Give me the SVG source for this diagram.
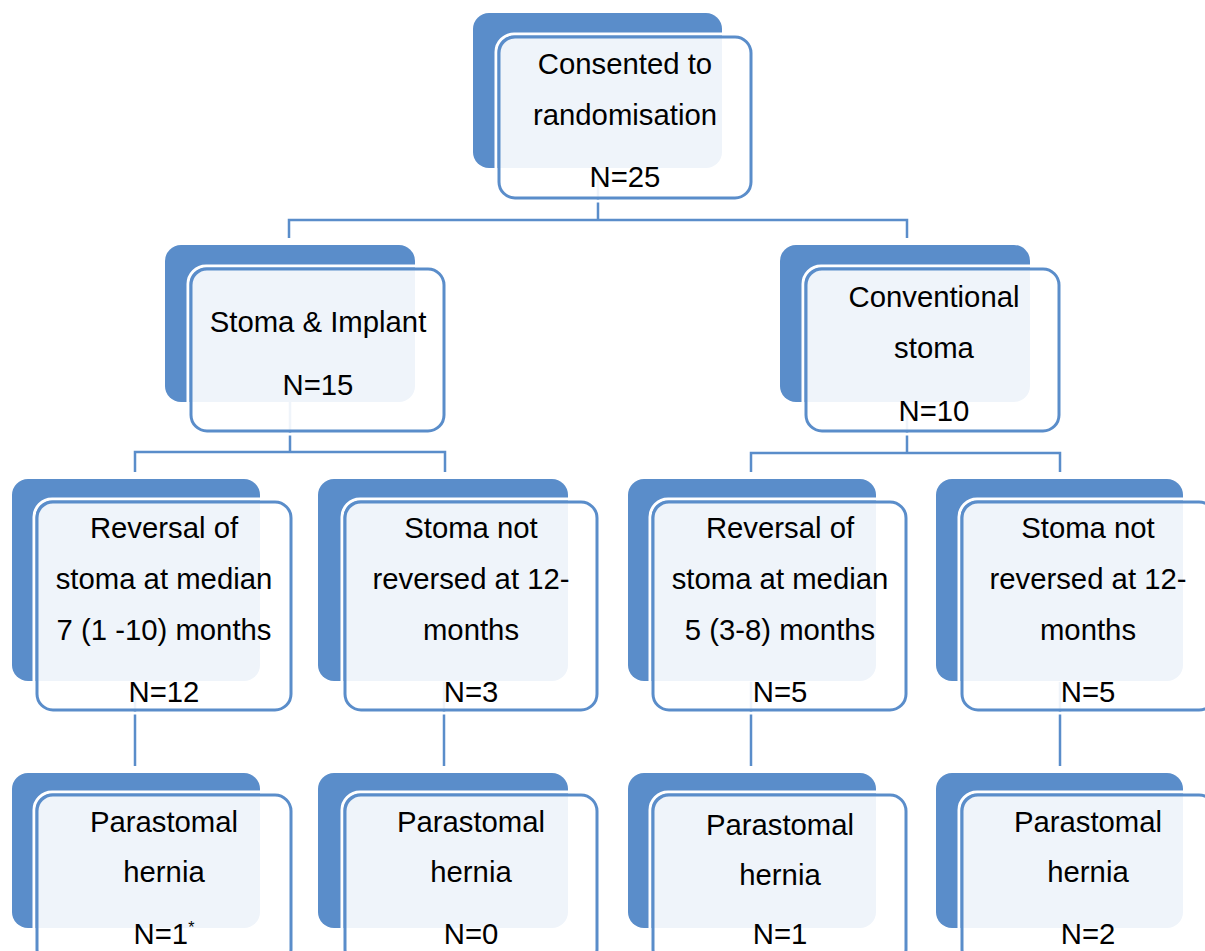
<svg xmlns="http://www.w3.org/2000/svg" width="1205" height="951" viewBox="0 0 1205 951">
<style>
.bk{fill:#5A8DCA}
.halo{fill:none;stroke:#ffffff;stroke-width:3}
.fr{fill:#ffffff;fill-opacity:0.9;stroke:#5A8DCA;stroke-width:3}
.cn{fill:none;stroke:#5A8DCA;stroke-width:2.5}
text{font-family:"Liberation Sans",Arial,sans-serif;font-size:29.3px;fill:#000;text-anchor:middle}
.sup{font-size:16px}
</style>
<rect width="1205" height="951" fill="#ffffff"/>
<g id="connectors">
<path class="cn" d="M598 168 V220 M289 238 V220 H907 V238"/>
<path class="cn" d="M290 402 V452 M135 472 V452 H445 V472"/>
<path class="cn" d="M907 402 V453 M751 472 V453 H1060 V472"/>
<path class="cn" d="M135 682 V766 M444 682 V766 M751 682 V766 M1060 682 V766"/>
</g>
<g id="n-consented">
<rect class="bk" x="473" y="13" width="249" height="155" rx="16"/>
<rect class="halo" x="496" y="34" width="258" height="167" rx="18"/>
<rect class="fr" x="499" y="37" width="252" height="161" rx="16"/>
<text x="625" y="74">Consented to</text>
<text x="625" y="125">randomisation</text>
<text x="625" y="187">N=25</text>
</g>
<g id="n-implant">
<rect class="bk" x="165" y="245" width="250" height="157" rx="16"/>
<rect class="halo" x="188" y="266" width="259" height="168" rx="18"/>
<rect class="fr" x="191" y="269" width="253" height="162" rx="16"/>
<text x="318" y="332">Stoma &amp; Implant</text>
<text x="318" y="395">N=15</text>
</g>
<g id="n-conventional">
<rect class="bk" x="780" y="245" width="250" height="157" rx="16"/>
<rect class="halo" x="803" y="266" width="259" height="168" rx="18"/>
<rect class="fr" x="806" y="269" width="253" height="162" rx="16"/>
<text x="934" y="307">Conventional</text>
<text x="934" y="358">stoma</text>
<text x="934" y="421">N=10</text>
</g>
<g id="n-rev-implant">
<rect class="bk" x="12" y="479" width="248" height="202" rx="16"/>
<rect class="halo" x="34" y="499" width="260" height="214" rx="18"/>
<rect class="fr" x="37" y="502" width="254" height="208" rx="16"/>
<text x="164" y="538">Reversal of</text>
<text x="164" y="589">stoma at median</text>
<text x="164" y="640">7 (1 -10) months</text>
<text x="164" y="702">N=12</text>
</g>
<g id="n-notrev-implant">
<rect class="bk" x="318" y="479" width="250" height="202" rx="16"/>
<rect class="halo" x="342" y="499" width="258" height="214" rx="18"/>
<rect class="fr" x="345" y="502" width="252" height="208" rx="16"/>
<text x="471" y="538">Stoma not</text>
<text x="471" y="589">reversed at 12-</text>
<text x="471" y="640">months</text>
<text x="471" y="702">N=3</text>
</g>
<g id="n-rev-conv">
<rect class="bk" x="628" y="479" width="248" height="202" rx="16"/>
<rect class="halo" x="650" y="499" width="259" height="214" rx="18"/>
<rect class="fr" x="653" y="502" width="253" height="208" rx="16"/>
<text x="780" y="538">Reversal of</text>
<text x="780" y="589">stoma at median</text>
<text x="780" y="640">5 (3-8) months</text>
<text x="780" y="702">N=5</text>
</g>
<g id="n-notrev-conv">
<rect class="bk" x="936" y="479" width="247" height="202" rx="16"/>
<rect class="halo" x="959" y="499" width="259" height="214" rx="18"/>
<rect class="fr" x="962" y="502" width="253" height="208" rx="16"/>
<text x="1088" y="538">Stoma not</text>
<text x="1088" y="589">reversed at 12-</text>
<text x="1088" y="640">months</text>
<text x="1088" y="702">N=5</text>
</g>
<g id="n-hernia-1">
<rect class="bk" x="12" y="773" width="248" height="155" rx="16"/>
<rect class="halo" x="34" y="792" width="260" height="176" rx="18"/>
<rect class="fr" x="37" y="795" width="254" height="170" rx="16"/>
<text x="164" y="832">Parastomal</text>
<text x="164" y="882">hernia</text>
<text x="164" y="944">N=1<tspan class="sup" dy="-11">*</tspan></text>
</g>
<g id="n-hernia-2">
<rect class="bk" x="318" y="773" width="250" height="155" rx="16"/>
<rect class="halo" x="342" y="792" width="258" height="176" rx="18"/>
<rect class="fr" x="345" y="795" width="252" height="170" rx="16"/>
<text x="471" y="832">Parastomal</text>
<text x="471" y="882">hernia</text>
<text x="471" y="944">N=0</text>
</g>
<g id="n-hernia-3">
<rect class="bk" x="628" y="773" width="248" height="155" rx="16"/>
<rect class="halo" x="650" y="792" width="259" height="176" rx="18"/>
<rect class="fr" x="653" y="795" width="253" height="170" rx="16"/>
<text x="780" y="835">Parastomal</text>
<text x="780" y="885">hernia</text>
<text x="780" y="944">N=1</text>
</g>
<g id="n-hernia-4">
<rect class="bk" x="936" y="773" width="247" height="155" rx="16"/>
<rect class="halo" x="959" y="792" width="259" height="176" rx="18"/>
<rect class="fr" x="962" y="795" width="253" height="170" rx="16"/>
<text x="1088" y="832">Parastomal</text>
<text x="1088" y="882">hernia</text>
<text x="1088" y="944">N=2</text>
</g>
</svg>
